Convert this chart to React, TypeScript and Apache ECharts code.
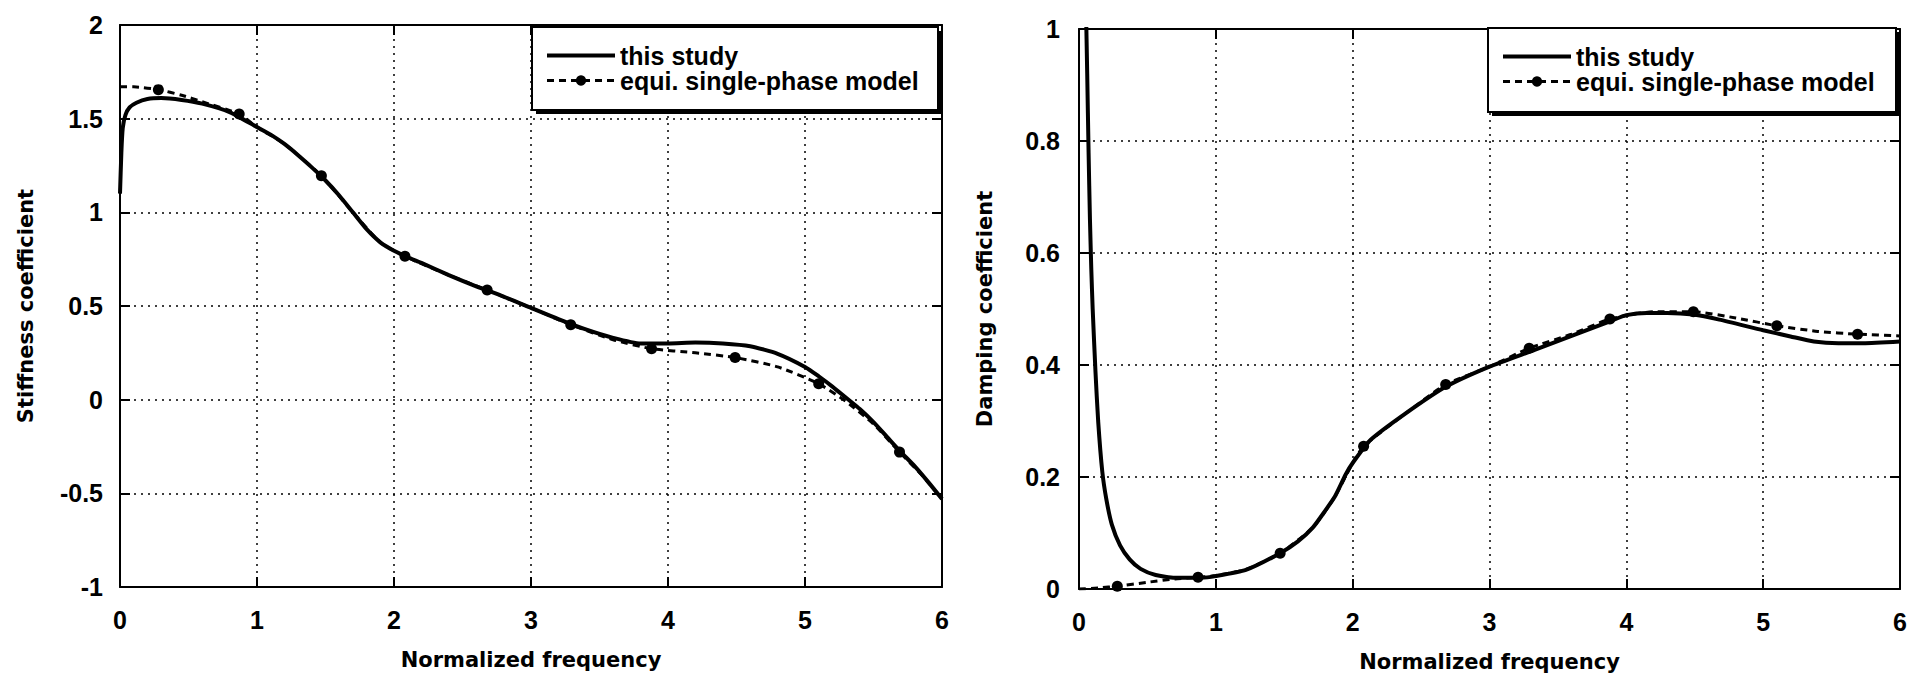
import React, { useEffect, useRef } from "react";
import * as echarts from "echarts";

// ---------- data ----------
const FREQ_TICKS = [0, 1, 2, 3, 4, 5, 6];

const stiffStudyX = [0, 0.01, 0.02, 0.04, 0.07, 0.12, 0.2, 0.3, 0.45, 0.6, 0.8, 1.0, 1.1, 1.2, 1.3, 1.4, 1.5, 1.6, 1.7, 1.8, 1.9, 2.0, 2.1, 2.2, 2.4, 2.6, 2.8, 3.0, 3.2, 3.4, 3.6, 3.8, 4.0, 4.2, 4.4, 4.6, 4.8, 5.0, 5.1, 5.2, 5.3, 5.4, 5.5, 5.6, 5.7, 5.8, 5.9, 6.0];
const stiffStudyY = [1.10, 1.32, 1.45, 1.52, 1.56, 1.585, 1.605, 1.61, 1.60, 1.58, 1.535, 1.455, 1.415, 1.365, 1.305, 1.24, 1.17, 1.09, 1.0, 0.91, 0.84, 0.795, 0.76, 0.73, 0.665, 0.605, 0.55, 0.49, 0.43, 0.375, 0.33, 0.30, 0.30, 0.305, 0.30, 0.285, 0.245, 0.175, 0.125, 0.07, 0.01, -0.05, -0.12, -0.2, -0.28, -0.355, -0.44, -0.53];

const stiffEquiX = [0, 0.1, 0.28, 0.45, 0.6, 0.87, 1.0, 1.2, 1.47, 1.7, 1.9, 2.08, 2.4, 2.68, 3.0, 3.29, 3.6, 3.88, 4.2, 4.49, 4.8, 5.1, 5.3, 5.5, 5.69, 5.85, 6.0];
const stiffEquiY = [1.67, 1.67, 1.655, 1.625, 1.59, 1.525, 1.455, 1.365, 1.195, 1.0, 0.84, 0.765, 0.665, 0.585, 0.49, 0.40, 0.32, 0.272, 0.25, 0.225, 0.175, 0.085, -0.01, -0.13, -0.28, -0.4, -0.53];

const dampStudyX = [0.05, 0.06, 0.07, 0.08, 0.09, 0.1, 0.12, 0.14, 0.17, 0.2, 0.24, 0.3, 0.37, 0.45, 0.56, 0.7, 0.89, 1.0, 1.22, 1.47, 1.6, 1.71, 1.8, 1.87, 1.95, 2.0, 2.13, 2.39, 2.68, 3.0, 3.33, 3.6, 3.89, 4.0, 4.15, 4.3, 4.49, 4.68, 5.0, 5.2, 5.37, 5.55, 5.73, 6.0];
const dampStudyY = [1.05, 0.92, 0.78, 0.66, 0.57, 0.50, 0.39, 0.30, 0.21, 0.16, 0.115, 0.078, 0.053, 0.036, 0.025, 0.02, 0.02, 0.023, 0.034, 0.064, 0.085, 0.11, 0.14, 0.165, 0.205, 0.225, 0.266, 0.314, 0.361, 0.397, 0.427, 0.452, 0.479, 0.489, 0.493, 0.493, 0.49, 0.481, 0.462, 0.451, 0.442, 0.439, 0.439, 0.442];

const dampEquiX = [0, 0.15, 0.28, 0.5, 0.7, 0.87, 1.0, 1.22, 1.47, 1.71, 1.87, 2.0, 2.08, 2.39, 2.68, 3.0, 3.29, 3.6, 3.88, 4.2, 4.49, 4.8, 5.1, 5.4, 5.69, 6.0];
const dampEquiY = [0, 0.002, 0.005, 0.012, 0.018, 0.021, 0.024, 0.035, 0.064, 0.11, 0.165, 0.225, 0.255, 0.314, 0.365, 0.397, 0.43, 0.455, 0.482, 0.495, 0.495, 0.484, 0.47, 0.46, 0.455, 0.452];

const equiMarkerX = [0.28, 0.87, 1.47, 2.08, 2.68, 3.29, 3.88, 4.49, 5.1, 5.69];

const SERIES_STUDY = "this study";
const SERIES_EQUI = "equi. single-phase model";

// ---------- helpers ----------
const zip = (xs: number[], ys: number[]) => xs.map((x, i) => [x, ys[i]]);
const withMarkers = (xs: number[], ys: number[]) =>
  xs.map((x, i) =>
    equiMarkerX.includes(x) ? { value: [x, ys[i]] } : { value: [x, ys[i]], symbol: "none" }
  );

const TICK_FONT = { fontFamily: "Liberation Sans, Arial, sans-serif", fontWeight: "bold" as const, fontSize: 25, color: "#000" };
const TITLE_FONT = { fontFamily: "DejaVu Sans, sans-serif", fontWeight: "bold" as const, fontSize: 21, color: "#000" };
const LEGEND_FONT = { fontFamily: "Liberation Sans, Arial, sans-serif", fontWeight: "bold" as const, fontSize: 25, color: "#000" };

const axisLine = { show: true, onZero: false, lineStyle: { color: "#000", width: 2 } };
const axisTick = { show: true, inside: true, length: 10, lineStyle: { color: "#000", width: 2 } };
const gridLine = { show: true, lineStyle: { color: "#000", type: [2, 5], width: 1.5 } };

function xAxes(gridIndex: number) {
  return [
    {
      type: "value", gridIndex, position: "bottom", min: FREQ_TICKS[0], max: FREQ_TICKS[FREQ_TICKS.length - 1], interval: 1,
      axisLine, axisTick, splitLine: gridLine,
      axisLabel: { ...TICK_FONT, margin: 20 },
      name: "Normalized frequency", nameLocation: "middle", nameGap: 62, nameTextStyle: TITLE_FONT,
    },
    {
      type: "value", gridIndex, position: "top", min: FREQ_TICKS[0], max: FREQ_TICKS[FREQ_TICKS.length - 1], interval: 1,
      axisLine, axisTick, splitLine: { show: false }, axisLabel: { show: false },
    },
  ];
}

function yAxes(gridIndex: number, min: number, max: number, interval: number, name: string, margin: number) {
  return [
    {
      type: "value", gridIndex, position: "left", min, max, interval,
      axisLine, axisTick, splitLine: gridLine,
      axisLabel: { ...TICK_FONT, margin },
      name, nameLocation: "middle", nameRotate: 90, nameGap: 84, nameTextStyle: TITLE_FONT,
    },
    {
      type: "value", gridIndex, position: "right", min, max, interval,
      axisLine, axisTick, splitLine: { show: false }, axisLabel: { show: false },
    },
  ];
}

function studySeries(xi: number, yi: number, data: number[][]) {
  return {
    type: "line", name: SERIES_STUDY, xAxisIndex: xi, yAxisIndex: yi, data,
    symbol: "none", smooth: 0.2, clip: true, z: 3,
    lineStyle: { color: "#000", width: 4 }, itemStyle: { color: "#000" },
  };
}

function equiSeries(xi: number, yi: number, data: any[]) {
  return {
    type: "line", name: SERIES_EQUI, xAxisIndex: xi, yAxisIndex: yi, data,
    symbol: "circle", symbolSize: 11, showSymbol: true, showAllSymbol: true, smooth: 0.2, clip: true, z: 4,
    lineStyle: { color: "#000", width: 3, type: [7, 5] }, itemStyle: { color: "#000" },
  };
}

function legendBox(x: number, y: number, w: number, h: number) {
  return [
    { type: "rect", z: 5, silent: true, shape: { x: x + 4, y: y + 4, width: w, height: h }, style: { fill: "#000" } },
    { type: "rect", z: 6, silent: true, shape: { x, y, width: w, height: h }, style: { fill: "#fff", stroke: "#000", lineWidth: 2 } },
  ];
}

function legendAt(left: number, top: number, lineHeight: number) {
  return {
    show: true, orient: "vertical", left, top, padding: 0, itemGap: 0, itemWidth: 68, itemHeight: 13,
    selectedMode: false, z: 10,
    data: [
      { name: SERIES_STUDY, itemStyle: { opacity: 0 }, lineStyle: { width: 4 } },
      { name: SERIES_EQUI, lineStyle: { width: 3 } },
    ],
    textStyle: { ...LEGEND_FONT, lineHeight },
  };
}

export default function App() {
  const ref = useRef<HTMLDivElement>(null);
  useEffect(() => {
    if (!ref.current) return;
    const chart = echarts.init(ref.current, undefined, { renderer: "svg" });
    chart.setOption({
      animation: false,
      backgroundColor: "#fff",
      grid: [
        { left: 120, top: 25, width: 822, height: 562 },
        { left: 1079, top: 29, width: 821, height: 560 },
      ],
      xAxis: [...xAxes(0), ...xAxes(1)],
      yAxis: [
        ...yAxes(0, -1, 2, 0.5, "Stiffness coefficient", 17),
        ...yAxes(1, 0, 1, 0.2, "Damping coefficient", 19),
      ],
      legend: [legendAt(545, 43, 24), legendAt(1501, 44, 25)],
      graphic: [...legendBox(532, 27, 406, 83), ...legendBox(1488, 28, 408, 84)],
      series: [
        studySeries(0, 0, zip(stiffStudyX, stiffStudyY)),
        equiSeries(0, 0, withMarkers(stiffEquiX, stiffEquiY)),
        studySeries(2, 2, zip(dampStudyX, dampStudyY)),
        equiSeries(2, 2, withMarkers(dampEquiX, dampEquiY)),
      ],
    });
    return () => chart.dispose();
  }, []);
  return (
    <div
      ref={ref}
      style={{ position: "fixed", left: 0, top: 0, width: 1917, height: 682, background: "#fff" }}
    />
  );
}
